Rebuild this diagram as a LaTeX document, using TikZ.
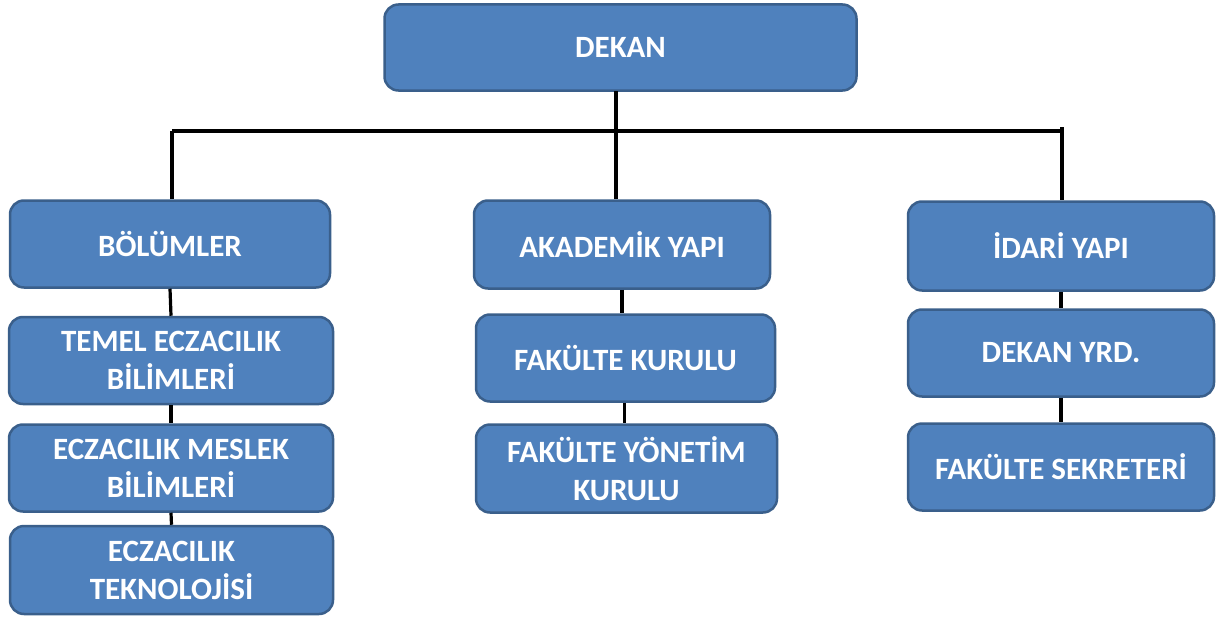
\documentclass[tikz,border=0pt]{standalone}
\usepackage{fontspec}
\setmainfont{Carlito}
\definecolor{boxfill}{HTML}{4F81BD}
\definecolor{boxline}{HTML}{3A5F8B}
\tikzset{
  unitbox/.style={draw=boxline,fill=boxfill,line width=2.5pt,rounded corners=14pt,
    text=white,font=\fontsize{31}{38}\selectfont\bfseries,align=center,
    inner sep=0pt,minimum width=#1},
  unitbox/.default=320pt,
  link/.style={line width=3.2pt,black}
}
\begin{document}
\begin{tikzpicture}[x=1pt,y=-1pt]

\useasboundingbox (0,0) rectangle (1221,618) ;

% top
\node[unitbox=472pt,minimum height=86pt] (dekan) at (620.5,47.5) {DEKAN} ;

% left column
\node[unitbox=320pt,minimum height=87pt] (bolum) at (170,244) {BÖLÜMLER} ;
\node[unitbox=324pt,minimum height=87pt] (temel) at (171,360.5) {TEMEL ECZACILIK\\BİLİMLERİ} ;
\node[unitbox=324pt,minimum height=87pt] (meslek) at (171,468) {ECZACILIK MESLEK\\BİLİMLERİ} ;
\node[unitbox=323pt,minimum height=88pt] (teknoloji) at (171.5,570) {ECZACILIK\\TEKNOLOJİSİ} ;

% middle column
\node[unitbox=296pt,minimum height=88pt] (akademik) at (622,244.5) {AKADEMİK YAPI} ;
\node[unitbox=299pt,minimum height=87pt] (fkurul) at (625.5,358) {FAKÜLTE KURULU} ;
\node[unitbox=301pt,minimum height=88pt] (fyonetim) at (626.5,468.5) {FAKÜLTE YÖNETİM\\KURULU} ;

% right column
\node[unitbox=306pt,minimum height=89pt] (idari) at (1061,246) {İDARİ YAPI} ;
\node[unitbox=306pt,minimum height=87pt] (dyrd) at (1061,353) {DEKAN YRD.} ;
\node[unitbox=306pt,minimum height=87pt] (sekreter) at (1061,467) {FAKÜLTE SEKRETERİ} ;

% links
\coordinate (bar_l) at (172,131) ;
\coordinate (bar_r) at (1062,131) ;
\coordinate (bar_top) at (1062,127) ;
\coordinate (dk) at (616,91) ;

\draw[link] (bar_l) -- (bar_r) ;
\draw[link] (dk) -- (dk |- akademik.north) ;
\draw[link] (bar_l) -- (bar_l |- bolum.north) ;
\draw[link] (bar_top) -- (bar_top |- idari.north) ;

\draw[link] (bolum.south) -- (temel.north) ;
\draw[link] (temel.south) -- (meslek.north) ;
\draw[link] (meslek.south) -- (teknoloji.north) ;

\draw[link] (akademik.south) -- (akademik.south |- fkurul.north) ;
\draw[link] ([xshift=-1pt]fkurul.south) -- ([xshift=-1pt]fkurul.south |- fyonetim.north) ;

\draw[link] (idari.south) -- (dyrd.north) ;
\draw[link] (dyrd.south) -- (sekreter.north) ;

\end{tikzpicture}
\end{document}
